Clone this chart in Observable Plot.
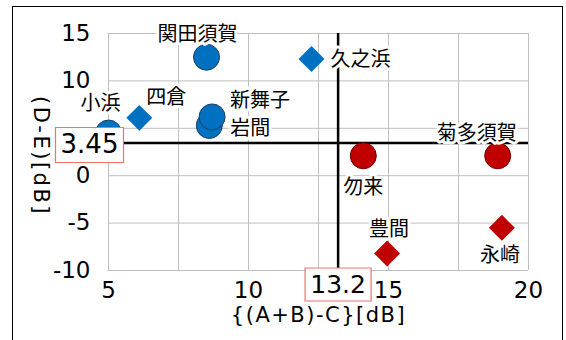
<!DOCTYPE html>
<html><head><meta charset="utf-8">
<script src="https://cdn.jsdelivr.net/npm/d3@7"></script>
<script src="https://cdn.jsdelivr.net/npm/@observablehq/plot@0.6"></script>
<style>
body{margin:0;background:#fff}
#wrap{position:relative;width:566px;height:340px;overflow:hidden;background:#fff}
#border{position:absolute;left:12px;top:6px;width:551px;height:345px;border:1.5px solid #000;box-sizing:border-box;pointer-events:none}
svg{display:block}
</style>
</head><body><div id="wrap"></div>
<script>
// ---- data ----
const names  = ["関田須賀","小浜","四倉","岩間","新舞子","久之浜","菊多須賀","勿来","豊間","永崎"];
const xVals  = [8.5, 5.0, 6.1, 8.6, 8.7, 12.25, 18.9, 14.1, 14.95, 19.05];
const yVals  = [12.5, 4.5, 6.1, 5.3, 6.2, 12.3, 2.1, 2.1, -8.2, -5.5];
const shapes = ["circle","circle","diamond","circle","circle","diamond","circle","circle","diamond","diamond"];
const groups = ["blue","blue","blue","blue","blue","blue","red","red","red","red"];
const refX = 13.2;
const refY = 3.45;
const xTicks = [5, 10, 15, 20];
const yTicks = [-10, -5, 0, 10, 15];   // "5" is hidden behind the 3.45 box in the original
const yGrid = [-10, -5, 0, 5, 10, 15];
const xGrid = [5, 7.5, 10, 12.5, 15, 17.5, 20];
const xTitle = "{(A+B)-C}[dB]";
const yTitle = "(D-E)[dB]";

const data = names.map((n, i) => ({name: n, x: xVals[i], y: yVals[i], shape: shapes[i], group: groups[i]}));

// label placement (styling only)
const place = {
  "関田須賀": [-9, -23, "middle"],
  "小浜": [-8, -29, "middle"],
  "四倉": [27, -20, "middle"],
  "新舞子": [18, -16, "start"],
  "岩間": [21, 3, "start"],
  "久之浜": [19, 0, "start"],
  "菊多須賀": [-21, -22, "middle"],
  "勿来": [0, 32, "middle"],
  "豊間": [2, -24, "middle"],
  "永崎": [-2, 28, "middle"]
};

const fill = {blue: "#0070C0", red: "#C00000"};
const stroke = {blue: "#1c3f66", red: "#6b0000"};
const boxSymbol = (w, h) => ({draw(ctx){ctx.moveTo(-w/2,-h/2);ctx.lineTo(w/2,-h/2);ctx.lineTo(w/2,h/2);ctx.lineTo(-w/2,h/2);ctx.closePath();}});

const xDomain = [5, 20], yDomain = [-10, 15];
const font = "'DejaVu Sans', 'Noto Sans CJK JP', sans-serif";
const cjk = "'Noto Sans CJK JP', sans-serif";

const chart = Plot.plot({
  width: 566, height: 340,
  marginLeft: 108, marginRight: 38, marginTop: 33, marginBottom: 70,
  style: {fontFamily: font, background: "transparent", overflow: "visible"},
  x: {domain: xDomain},
  y: {domain: yDomain},
  marks: [
    Plot.gridX(xGrid, {stroke: "#bfbfbf", strokeOpacity: 1, strokeWidth: 1}),
    Plot.gridY(yGrid, {stroke: "#bfbfbf", strokeOpacity: 1, strokeWidth: 1}),
    Plot.axisX({ticks: xTicks, tickSize: 0, tickPadding: 11, fontSize: 23, label: null, tickFormat: d => String(d)}),
    Plot.axisY({ticks: yTicks, tickSize: 0, tickPadding: 18, fontSize: 23, label: null, tickFormat: d => String(d)}),
    Plot.ruleX([refX], {stroke: "black", strokeWidth: 2.5}),
    Plot.ruleY([refY], {stroke: "black", strokeWidth: 2.5}),
    ...data.map(d => Plot.dot([d], {
      x: "x", y: "y",
      symbol: d.shape === "circle" ? "circle" : "diamond2",
      r: d.shape === "circle" ? 13 : 11.7,
      fill: fill[d.group], stroke: d.shape === "circle" ? stroke[d.group] : "none", strokeWidth: 1, fillOpacity: 1
    })),
    ...data.map(d => Plot.text([d], {
      x: "x", y: "y", text: "name",
      dx: place[d.name][0], dy: place[d.name][1], textAnchor: place[d.name][2],
      fontSize: 20, fontFamily: cjk, fill: "black",
      stroke: "white", strokeWidth: 6
    })),
    Plot.dot([refY], {x: () => xDomain[0], y: d => d, dx: -19, dy: 2, symbol: boxSymbol(68, 35), r: 10, fill: "white", stroke: "#f07070", strokeWidth: 1.2}),
    Plot.text([refY], {x: () => xDomain[0], y: d => d, text: d => String(d), dx: -19, dy: 2, fontSize: 26, fill: "black"}),
    Plot.dot([refX], {x: d => d, y: () => yDomain[0], dy: 14, symbol: boxSymbol(66, 33), r: 10, fill: "white", stroke: "#f07070", strokeWidth: 1.2}),
    Plot.text([refX], {x: d => d, y: () => yDomain[0], text: d => String(d), dy: 14, fontSize: 25, fill: "black"}),
    Plot.text([xTitle], {frameAnchor: "bottom", textAnchor: "middle", lineAnchor: "middle", dx: 0, dy: 45, text: d => d, fontSize: 21, fill: "black"}),
    Plot.text([yTitle], {frameAnchor: "left", textAnchor: "middle", lineAnchor: "middle", dx: -68, dy: 4, rotate: 90, text: d => d, fontSize: 21, fill: "black"})
  ]
});
// widen the axis titles' letter spacing like the original
d3.select(chart).selectAll("text").filter(function(){ return this.textContent === xTitle; }).attr("letter-spacing", 1.5);
d3.select(chart).selectAll("text").filter(function(){ return this.textContent === yTitle; }).attr("letter-spacing", 2.5);
const wrap = document.getElementById("wrap");
wrap.appendChild(chart);
const b = document.createElement("div"); b.id = "border"; wrap.appendChild(b);
</script></body></html>
